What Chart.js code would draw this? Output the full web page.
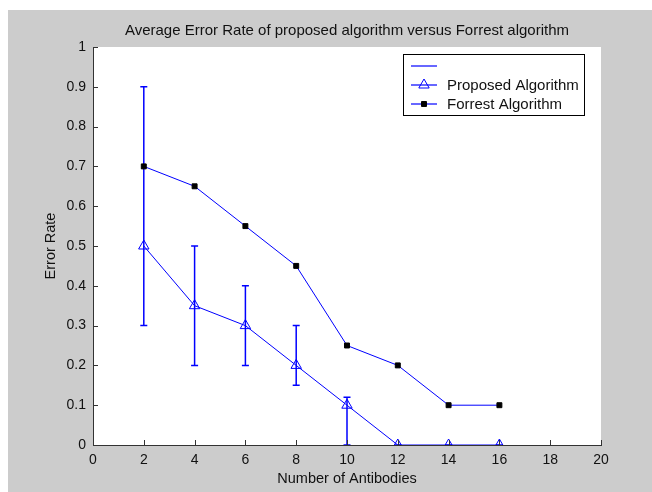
<!DOCTYPE html>
<html lang="en">
<head>
    <meta charset="UTF-8">
    <title>Average Error Rate of proposed algorithm versus Forrest algorithm</title>
    <style>
        body {
            margin: 0;
            background: #ffffff;
            width: 652px;
            height: 492px;
            overflow: hidden;
        }
        .figure {
            position: absolute;
            left: 8px;
            top: 10px;
            width: 644px;
            height: 482px;
            background: #cccccc;
        }
    </style>
    <script src="https://cdn.jsdelivr.net/npm/chart.js@4.4.1/dist/chart.umd.min.js"></script>
</head>
<body>
    <div class="figure">
        <canvas id="errorChart" width="644" height="482"></canvas>
    </div>

    <script>
        // data
        const antibodies = [2, 4, 6, 8, 10, 12, 14, 16];
        const proposedRate = [0.5, 0.35, 0.3, 0.2, 0.1, 0, 0, 0];
        const forrestRate = [0.7, 0.65, 0.55, 0.45, 0.25, 0.2, 0.1, 0.1];
        const proposedLow = [0.3, 0.2, 0.2, 0.15, 0, 0, 0, 0];
        const proposedHigh = [0.9, 0.5, 0.4, 0.3, 0.12, 0, 0, 0];
        const xTicks = [0, 2, 4, 6, 8, 10, 12, 14, 16, 18, 20];
        const yTicks = [0, 0.1, 0.2, 0.3, 0.4, 0.5, 0.6, 0.7, 0.8, 0.9, 1];
        const legendNames = ['', 'Proposed Algorithm', 'Forrest Algorithm'];

        const BLUE = 'rgb(0, 0, 255)';
        const AXIS = '#333333';

        Chart.defaults.font.family = '"Liberation Sans", Arial, sans-serif';
        Chart.defaults.color = '#111111';

        // white plot box, title centred over the plot box
        const plotBackground = {
            id: 'plotBackground',
            afterLayout(chart) {
                const a = chart.chartArea;
                if (chart.titleBlock) {
                    chart.titleBlock.left = a.left;
                    chart.titleBlock.right = a.right;
                    chart.titleBlock.width = a.right - a.left;
                }
            },
            beforeDraw(chart) {
                const { ctx, chartArea: a } = chart;
                ctx.save();
                ctx.fillStyle = '#ffffff';
                ctx.fillRect(a.left, a.top, a.right - a.left, a.bottom - a.top);
                ctx.restore();
            }
        };

        // vertical error bars of the proposed algorithm
        const errorBars = {
            id: 'errorBars',
            beforeDatasetsDraw(chart) {
                const { ctx, chartArea: a, scales } = chart;
                ctx.save();
                ctx.beginPath();
                ctx.rect(a.left, a.top, a.right - a.left, a.bottom - a.top);
                ctx.clip();
                ctx.strokeStyle = BLUE;
                ctx.lineWidth = 1.5;
                antibodies.forEach((x, i) => {
                    const px = scales.x.getPixelForValue(x);
                    const lo = scales.y.getPixelForValue(proposedLow[i]);
                    const hi = scales.y.getPixelForValue(proposedHigh[i]);
                    ctx.beginPath();
                    ctx.moveTo(px, lo);
                    ctx.lineTo(px, hi);
                    ctx.moveTo(px - 3.5, lo);
                    ctx.lineTo(px + 3.5, lo);
                    ctx.moveTo(px - 3.5, hi);
                    ctx.lineTo(px + 3.5, hi);
                    ctx.stroke();
                });
                ctx.restore();
            }
        };

        // inward tick marks (matlab style)
        const innerTicks = {
            id: 'innerTicks',
            afterDraw(chart) {
                const { ctx, chartArea: a, scales } = chart;
                ctx.save();
                ctx.strokeStyle = AXIS;
                ctx.lineWidth = 1;
                ctx.beginPath();
                scales.x.ticks.forEach(t => {
                    const px = Math.round(scales.x.getPixelForValue(t.value)) + 0.5;
                    ctx.moveTo(px, a.bottom);
                    ctx.lineTo(px, a.bottom - 5);
                });
                scales.y.ticks.forEach(t => {
                    const py = Math.round(scales.y.getPixelForValue(t.value)) + 0.5;
                    ctx.moveTo(a.left, py);
                    ctx.lineTo(a.left + 5, py);
                });
                ctx.stroke();
                ctx.restore();
            }
        };

        // boxed legend inside the plot, top right
        const boxLegend = {
            id: 'boxLegend',
            afterDraw(chart) {
                const { ctx, chartArea: a } = chart;
                const w = 181, h = 61;
                const bx = a.right - 17, by = a.top + 7;
                const left = bx - w;
                ctx.save();
                ctx.fillStyle = '#ffffff';
                ctx.fillRect(left, by, w, h);
                ctx.strokeStyle = '#000000';
                ctx.lineWidth = 1;
                ctx.strokeRect(left + 0.5, by + 0.5, w, h);

                const markers = [
                    null,
                    { pointStyle: 'triangle', radius: 6, borderWidth: 1, fill: 'rgba(0,0,0,0)', stroke: BLUE },
                    { pointStyle: 'rect', radius: 3.5, borderWidth: 1, fill: '#000000', stroke: '#000000' }
                ];
                legendNames.forEach((name, i) => {
                    const y = Math.round(by + 11.5 + i * 19);
                    ctx.strokeStyle = BLUE;
                    ctx.lineWidth = 1.2;
                    ctx.beginPath();
                    ctx.moveTo(left + 8, y);
                    ctx.lineTo(left + 34, y);
                    ctx.stroke();
                    const m = markers[i];
                    if (m) {
                        ctx.fillStyle = m.fill;
                        ctx.strokeStyle = m.stroke;
                        ctx.lineWidth = m.borderWidth;
                        Chart.helpers.drawPoint(ctx, m, left + 21, y);
                    }
                    ctx.fillStyle = '#111111';
                    ctx.font = '15px "Liberation Sans", Arial, sans-serif';
                    ctx.textBaseline = 'middle';
                    ctx.fillText(name, left + 44, y + 1);
                });
                ctx.restore();
            }
        };

        new Chart(document.getElementById('errorChart'), {
            type: 'line',
            data: {
                datasets: [{
                    label: legendNames[1],
                    data: antibodies.map((x, i) => ({ x: x, y: proposedRate[i] })),
                    borderColor: BLUE,
                    borderWidth: 1,
                    pointStyle: 'triangle',
                    pointRadius: 6,
                    pointBorderWidth: 1,
                    pointBorderColor: BLUE,
                    pointBackgroundColor: 'rgba(0,0,0,0)',
                    tension: 0
                }, {
                    label: legendNames[2],
                    data: antibodies.map((x, i) => ({ x: x, y: forrestRate[i] })),
                    borderColor: BLUE,
                    borderWidth: 1,
                    pointStyle: 'rect',
                    pointRadius: 3.5,
                    pointBorderWidth: 1,
                    pointBorderColor: '#000000',
                    pointBackgroundColor: '#000000',
                    tension: 0
                }]
            },
            options: {
                responsive: false,
                animation: false,
                devicePixelRatio: 1,
                layout: { padding: { left: 0, right: 51, top: 0, bottom: 0 } },
                plugins: {
                    legend: { display: false },
                    tooltip: { enabled: false },
                    title: {
                        display: true,
                        text: 'Average Error Rate of proposed algorithm versus Forrest algorithm',
                        color: '#111111',
                        font: { size: 15, weight: 'normal', lineHeight: 1.2 },
                        padding: { top: 12, bottom: 7 }
                    }
                },
                scales: {
                    x: {
                        type: 'linear',
                        min: 0,
                        max: 20,
                        afterBuildTicks: s => { s.ticks = xTicks.map(v => ({ value: v })); },
                        afterFit: s => { s.height = 47; },
                        grid: { display: false, drawTicks: false },
                        border: { display: true, color: AXIS, width: 1 },
                        ticks: {
                            padding: 6.5,
                            maxRotation: 0,
                            autoSkip: false,
                            font: { size: 14 },
                            callback: v => String(v)
                        },
                        title: {
                            display: true,
                            text: 'Number of Antibodies',
                            color: '#111111',
                            font: { size: 14.5 },
                            padding: { top: 0, bottom: 4 }
                        }
                    },
                    y: {
                        type: 'linear',
                        min: 0,
                        max: 1,
                        afterBuildTicks: s => { s.ticks = yTicks.map(v => ({ value: v })); },
                        afterFit: s => { s.width = 85; },
                        grid: { display: false, drawTicks: false },
                        border: { display: true, color: AXIS, width: 1 },
                        ticks: {
                            padding: 7,
                            autoSkip: false,
                            font: { size: 14 },
                            callback: v => String(v)
                        },
                        title: {
                            display: true,
                            text: 'Error Rate',
                            color: '#111111',
                            font: { size: 14.5 },
                            padding: { top: 34.6, bottom: 0 }
                        }
                    }
                }
            },
            plugins: [plotBackground, errorBars, innerTicks, boxLegend]
        });
    </script>
</body>
</html>
